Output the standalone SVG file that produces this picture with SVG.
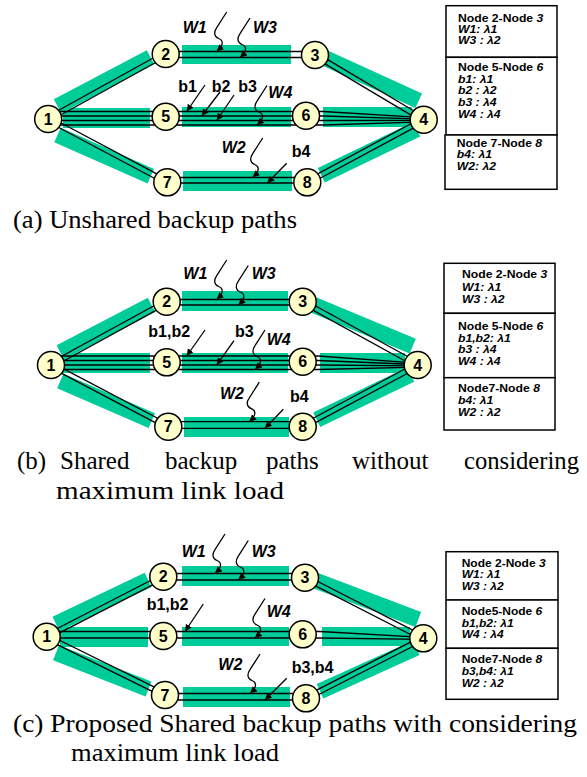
<svg xmlns="http://www.w3.org/2000/svg" xmlns:xlink="http://www.w3.org/1999/xlink" width="587" height="777" viewBox="0 0 587 777">
<style>
.band{stroke:#00CC99;stroke-width:16;fill:none;stroke-linecap:butt}
.bandr{fill:#00CC99}
.ln{stroke:#000;stroke-width:1.3;fill:none}
.arr{stroke:#000;stroke-width:1.3;fill:none;marker-end:url(#ah)}
.node circle{fill:#FFFFCC;stroke:#000;stroke-width:1.5}
.node text{font-family:"Liberation Sans",Arial,sans-serif;font-weight:bold;font-size:16px;text-anchor:middle}
.lbl{font-family:"Liberation Sans",Arial,sans-serif;font-weight:bold;font-size:16px}
.w{font-style:italic}
.tbl rect{fill:#fff;stroke:#000;stroke-width:1.5}
.tt{font-family:"Liberation Sans",Arial,sans-serif;font-weight:bold;font-style:italic;font-size:10px}
.th{font-style:normal}
.cap{font-family:"Liberation Serif","Times New Roman",serif;font-size:25px;fill:#000}
</style>
<defs>
<marker id="ah" markerUnits="userSpaceOnUse" markerWidth="8" markerHeight="8" refX="7" refY="3.5" orient="auto">
<path d="M0,0 L7,3.5 L0,7 Z" fill="#000"/>
</marker>
<path id="sq" class="arr" d="M0,0 L-10,15.7 C-13,20 -13,24.5 -8,26.5 C-3,28.5 -3,33 -10,39.5"/>
</defs>

<!-- ================= (a) ================= -->
<g id="a-connectors">
<rect class="bandr" x="182" y="45" width="109" height="19"/>
<rect class="bandr" x="63" y="108" width="87" height="20"/>
<rect class="bandr" x="182" y="107" width="109" height="20"/>
<rect class="bandr" x="323" y="107" width="89" height="20"/>
<rect class="bandr" x="183" y="171" width="109" height="20"/>
<line class="band" x1="57.5" y1="106.3" x2="150.5" y2="57.2"/>
<line class="band" x1="320" y1="55.8" x2="418.7" y2="100.8"/>
<line class="band" x1="57.5" y1="135" x2="150.8" y2="176.3"/>
<line class="band" x1="321.3" y1="175.3" x2="416.7" y2="129.2"/>
<line class="ln" x1="47" y1="116.8" x2="164.5" y2="51.8"/>
<line class="ln" x1="49.4" y1="121.2" x2="166.9" y2="56.2"/>
<line class="ln" x1="165.7" y1="51.5" x2="315" y2="51.5"/>
<line class="ln" x1="165.7" y1="57.5" x2="315" y2="57.5"/>
<line class="ln" x1="316.3" y1="52.85" x2="425" y2="117.55"/>
<line class="ln" x1="313.7" y1="57.15" x2="422.4" y2="121.85"/>
<line class="ln" x1="49.4" y1="116.8" x2="168.5" y2="180.1"/>
<line class="ln" x1="47" y1="121.2" x2="166.1" y2="184.5"/>
<line class="ln" x1="167.3" y1="177.5" x2="307.3" y2="177.5"/>
<line class="ln" x1="167.3" y1="183" x2="307.3" y2="183"/>
<line class="ln" x1="306.1" y1="180.1" x2="422.5" y2="117.5"/>
<line class="ln" x1="308.5" y1="184.5" x2="424.9" y2="121.9"/>
<polyline class="ln" points="48,111.5 323,111.5 423.7,117.7"/>
<polyline class="ln" points="48,116 323,116 423.7,119.1"/>
<polyline class="ln" points="48,120.5 323,120.5 423.7,120.4"/>
<polyline class="ln" points="48,125 323,125 423.7,121.8"/>
<use xlink:href="#sq" href="#sq" transform="translate(226.7,12)"/>
<use xlink:href="#sq" href="#sq" transform="translate(250,18)"/>
<use xlink:href="#sq" href="#sq" transform="translate(267,85.5)"/>
<use xlink:href="#sq" href="#sq" transform="translate(262.7,138)"/>
<line class="arr" x1="205" y1="85" x2="186.7" y2="111.5"/>
<line class="arr" x1="220" y1="92" x2="201.7" y2="116"/>
<line class="arr" x1="234" y1="95" x2="216.7" y2="120.5"/>
<line class="arr" x1="286.7" y1="163.3" x2="267.3" y2="183"/>
</g>
<g id="a-labels" class="lbl">
<text class="w" x="182.7" y="33">W1</text>
<text class="w" x="253" y="33">W3</text>
<text x="178.3" y="91.7">b1</text>
<text x="211.7" y="91.7">b2</text>
<text x="238.3" y="91.7">b3</text>
<text class="w" x="268.3" y="98.3">W4</text>
<text class="w" x="221.7" y="153.3">W2</text>
<text x="291.7" y="156.7">b4</text>
</g>
<g id="a-n1" class="node"><circle cx="48.2" cy="119" r="13.5"/><text x="48.2" y="124.7">1</text></g>
<g id="a-n2" class="node"><circle cx="165.7" cy="54" r="13.5"/><text x="165.7" y="59.7">2</text></g>
<g id="a-n3" class="node"><circle cx="315" cy="55" r="13.5"/><text x="315" y="60.7">3</text></g>
<g id="a-n4" class="node"><circle cx="423.7" cy="119.7" r="13.5"/><text x="423.7" y="125.4">4</text></g>
<g id="a-n5" class="node"><circle cx="165.7" cy="116.7" r="13.5"/><text x="165.7" y="122.4">5</text></g>
<g id="a-n6" class="node"><circle cx="306" cy="115.7" r="13.5"/><text x="306" y="121.4">6</text></g>
<g id="a-n7" class="node"><circle cx="167.3" cy="182.3" r="13.5"/><text x="167.3" y="188">7</text></g>
<g id="a-n8" class="node"><circle cx="307.3" cy="182.3" r="13.5"/><text x="307.3" y="188">8</text></g>
<g id="a-table" class="tbl">
<rect x="446" y="5.7" width="111" height="51.6"/>
<rect x="446" y="57.3" width="111" height="77.7"/>
<rect x="445" y="135" width="112" height="54.3"/>
<g transform="matrix(1.22,0,0,1,-100.76,0)">
<text class="tt" x="458" y="21.7"><tspan class="th">Node 2-Node </tspan>3</text>
<text class="tt" x="458" y="33.3">W1: λ1</text>
<text class="tt" x="458" y="44.3">W3 : λ2</text>
<text class="tt" x="458" y="70.7"><tspan class="th">Node 5-Node </tspan>6</text>
<text class="tt" x="458" y="82.7">b1: λ1</text>
<text class="tt" x="458" y="94.3">b2 : λ2</text>
<text class="tt" x="458" y="106">b3 : λ4</text>
<text class="tt" x="458" y="117.7">W4 : λ4</text>
<text class="tt" x="457" y="146.7"><tspan class="th">Node 7-Node </tspan>8</text>
<text class="tt" x="457" y="158.3">b4: λ1</text>
<text class="tt" x="457" y="170">W2: λ2</text>
</g>
</g>
<text class="cap" x="13" y="227.5" textLength="284" lengthAdjust="spacingAndGlyphs">(a) Unshared backup paths</text>

<!-- ================= (b) ================= -->
<g id="b-connectors">
<rect class="bandr" x="182" y="291" width="106" height="20"/>
<rect class="bandr" x="63" y="353" width="87" height="20"/>
<rect class="bandr" x="182" y="353" width="106" height="20"/>
<rect class="bandr" x="320" y="353" width="85" height="20"/>
<rect class="bandr" x="184" y="417" width="105" height="20"/>
<line class="band" x1="60.3" y1="352.3" x2="151.5" y2="304.9"/>
<line class="band" x1="307.7" y1="302.5" x2="412.7" y2="346.1"/>
<line class="band" x1="60.3" y1="381" x2="151.8" y2="420.7"/>
<line class="band" x1="316.7" y1="419.7" x2="410.7" y2="374.5"/>
<line class="ln" x1="49.8" y1="362.8" x2="165.5" y2="299.5"/>
<line class="ln" x1="52.2" y1="367.2" x2="167.9" y2="303.9"/>
<line class="ln" x1="166.7" y1="299.5" x2="302.7" y2="299.5"/>
<line class="ln" x1="166.7" y1="305" x2="302.7" y2="305"/>
<line class="ln" x1="303.9" y1="299.5" x2="418.9" y2="362.8"/>
<line class="ln" x1="301.5" y1="303.9" x2="416.5" y2="367.2"/>
<line class="ln" x1="52.2" y1="362.8" x2="169.5" y2="424.5"/>
<line class="ln" x1="49.8" y1="367.2" x2="167.1" y2="428.9"/>
<line class="ln" x1="168.3" y1="421.7" x2="302.7" y2="421.7"/>
<line class="ln" x1="168.3" y1="428.3" x2="302.7" y2="428.3"/>
<line class="ln" x1="301.5" y1="424.5" x2="416.5" y2="362.8"/>
<line class="ln" x1="303.9" y1="428.9" x2="418.9" y2="367.2"/>
<polyline class="ln" points="51,356 318,356 417.7,363.1"/>
<polyline class="ln" points="51,360.5 318,360.5 417.7,364.5"/>
<polyline class="ln" points="51,365 318,365 417.7,365.8"/>
<polyline class="ln" points="51,369.5 318,369.5 417.7,367.2"/>
<use xlink:href="#sq" href="#sq" transform="translate(226.7,260)"/>
<use xlink:href="#sq" href="#sq" transform="translate(248.3,265.5)"/>
<use xlink:href="#sq" href="#sq" transform="translate(265,330)"/>
<use xlink:href="#sq" href="#sq" transform="translate(259.3,382.2)"/>
<line class="arr" x1="205" y1="330" x2="186.7" y2="356"/>
<line class="arr" x1="234" y1="340.7" x2="216.7" y2="365"/>
<line class="arr" x1="283.3" y1="409.3" x2="265" y2="428.3"/>
</g>
<g id="b-labels" class="lbl">
<text class="w" x="183.3" y="279.3">W1</text>
<text class="w" x="251.7" y="279.3">W3</text>
<text x="148.3" y="337.3">b1,b2</text>
<text x="235" y="337.3">b3</text>
<text class="w" x="266.7" y="345">W4</text>
<text class="w" x="220" y="399.3">W2</text>
<text x="290" y="401.7">b4</text>
</g>
<g id="b-n1" class="node"><circle cx="51" cy="365" r="13.5"/><text x="51" y="370.7">1</text></g>
<g id="b-n2" class="node"><circle cx="166.7" cy="301.7" r="13.5"/><text x="166.7" y="307.4">2</text></g>
<g id="b-n3" class="node"><circle cx="302.7" cy="301.7" r="13.5"/><text x="302.7" y="307.4">3</text></g>
<g id="b-n4" class="node"><circle cx="417.7" cy="365" r="13.5"/><text x="417.7" y="370.7">4</text></g>
<g id="b-n5" class="node"><circle cx="166.7" cy="362.3" r="13.5"/><text x="166.7" y="368">5</text></g>
<g id="b-n6" class="node"><circle cx="302.7" cy="361.7" r="13.5"/><text x="302.7" y="367.4">6</text></g>
<g id="b-n7" class="node"><circle cx="168.3" cy="426.7" r="13.5"/><text x="168.3" y="432.4">7</text></g>
<g id="b-n8" class="node"><circle cx="302.7" cy="426.7" r="13.5"/><text x="302.7" y="432.4">8</text></g>
<g id="b-table" class="tbl">
<rect x="444" y="263.3" width="111" height="50"/>
<rect x="444" y="313.3" width="111" height="64.4"/>
<rect x="444" y="377.7" width="111" height="52.3"/>
<g transform="matrix(1.22,0,0,1,-101.27,0)">
<text class="tt" x="461.7" y="278.3"><tspan class="th">Node 2-Node </tspan>3</text>
<text class="tt" x="461.7" y="290.7">W1: λ1</text>
<text class="tt" x="461.7" y="302.7">W3 : λ2</text>
</g>
<g transform="matrix(1.22,0,0,1,-100.76,0)">
<text class="tt" x="458" y="330"><tspan class="th">Node 5-Node </tspan>6</text>
<text class="tt" x="458" y="341.7">b1,b2: λ1</text>
<text class="tt" x="458" y="353.3">b3 : λ4</text>
<text class="tt" x="458" y="365">W4 : λ4</text>
<text class="tt" x="458" y="391.7"><tspan class="th">Node7-Node </tspan>8</text>
<text class="tt" x="458" y="404">b4: λ1</text>
<text class="tt" x="458" y="416">W2 : λ2</text>
</g>
</g>
<g class="cap">
<text x="17" y="469">(b)</text>
<text x="60" y="469">Shared</text>
<text x="165" y="469">backup</text>
<text x="266" y="469">paths</text>
<text x="352" y="469">without</text>
<text x="464" y="469" textLength="115" lengthAdjust="spacingAndGlyphs">considering</text>
<text x="56" y="499" textLength="228" lengthAdjust="spacingAndGlyphs">maximum link load</text>
</g>

<!-- ================= (c) ================= -->
<g id="c-connectors">
<rect class="bandr" x="182" y="566" width="107" height="20"/>
<rect class="bandr" x="60" y="627" width="88" height="20"/>
<rect class="bandr" x="182" y="627" width="107" height="19"/>
<rect class="bandr" x="322" y="627" width="88" height="19"/>
<rect class="bandr" x="183" y="687" width="107" height="20"/>
<line class="band" x1="56" y1="624" x2="148.1" y2="579.9"/>
<line class="band" x1="310" y1="578.5" x2="418.3" y2="619.4"/>
<line class="band" x1="56" y1="652.7" x2="148.5" y2="689"/>
<line class="band" x1="320" y1="691.3" x2="416.3" y2="647.8"/>
<line class="ln" x1="45.6" y1="634.5" x2="162.2" y2="574.5"/>
<line class="ln" x1="47.8" y1="638.9" x2="164.4" y2="578.9"/>
<line class="ln" x1="163.3" y1="573.5" x2="305" y2="573.5"/>
<line class="ln" x1="163.3" y1="580" x2="305" y2="580"/>
<line class="ln" x1="306.1" y1="575.5" x2="424.4" y2="636.1"/>
<line class="ln" x1="303.9" y1="579.9" x2="422.2" y2="640.5"/>
<line class="ln" x1="47.8" y1="634.5" x2="166.1" y2="692.8"/>
<line class="ln" x1="45.6" y1="638.9" x2="163.9" y2="697.2"/>
<line class="ln" x1="165" y1="693.5" x2="306" y2="693.5"/>
<line class="ln" x1="165" y1="700" x2="306" y2="700"/>
<line class="ln" x1="304.9" y1="696.1" x2="422.2" y2="636.1"/>
<line class="ln" x1="307.1" y1="700.5" x2="424.4" y2="640.5"/>
<polyline class="ln" points="46.7,631.5 320,631.5 423.3,637.3"/>
<polyline class="ln" points="46.7,638 320,638 423.3,639.3"/>
<use xlink:href="#sq" href="#sq" transform="translate(225,534)"/>
<use xlink:href="#sq" href="#sq" transform="translate(248.3,540.5)"/>
<use xlink:href="#sq" href="#sq" transform="translate(265,598.5)"/>
<use xlink:href="#sq" href="#sq" transform="translate(260,654)"/>
<line class="arr" x1="203.3" y1="604" x2="185" y2="631.5"/>
<line class="arr" x1="286.7" y1="678.3" x2="265" y2="700"/>
</g>
<g id="c-labels" class="lbl">
<text class="w" x="181.7" y="557.3">W1</text>
<text class="w" x="251.7" y="557.3">W3</text>
<text x="146.7" y="610">b1,b2</text>
<text class="w" x="266.7" y="617.3">W4</text>
<text class="w" x="218.3" y="670">W2</text>
<text x="291.7" y="673.3">b3,b4</text>
</g>
<g id="c-n1" class="node"><circle cx="46.7" cy="636.7" r="13.5"/><text x="46.7" y="642.4">1</text></g>
<g id="c-n2" class="node"><circle cx="163.3" cy="576.7" r="13.5"/><text x="163.3" y="582.4">2</text></g>
<g id="c-n3" class="node"><circle cx="305" cy="577.7" r="13.5"/><text x="305" y="583.4">3</text></g>
<g id="c-n4" class="node"><circle cx="423.3" cy="638.3" r="13.5"/><text x="423.3" y="644">4</text></g>
<g id="c-n5" class="node"><circle cx="163.3" cy="636" r="13.5"/><text x="163.3" y="641.7">5</text></g>
<g id="c-n6" class="node"><circle cx="302.7" cy="634.3" r="13.5"/><text x="302.7" y="640">6</text></g>
<g id="c-n7" class="node"><circle cx="165" cy="695" r="13.5"/><text x="165" y="700.7">7</text></g>
<g id="c-n8" class="node"><circle cx="306" cy="698.3" r="13.5"/><text x="306" y="704">8</text></g>
<g id="c-table" class="tbl">
<rect x="446" y="551.7" width="112" height="48.3"/>
<rect x="446" y="600" width="112" height="48.3"/>
<rect x="446" y="648.3" width="112" height="51"/>
<g transform="matrix(1.2,0,0,1,-92.34,0)">
<text class="tt" x="461.7" y="566.7"><tspan class="th">Node 2-Node </tspan>3</text>
<text class="tt" x="461.7" y="578.3">W1: λ1</text>
<text class="tt" x="461.7" y="590">W3 : λ2</text>
<text class="tt" x="461.7" y="615"><tspan class="th">Node5-Node </tspan>6</text>
<text class="tt" x="461.7" y="626.7">b1,b2: λ1</text>
<text class="tt" x="461.7" y="638.3">W4 : λ4</text>
<text class="tt" x="461.7" y="663.3"><tspan class="th">Node7-Node </tspan>8</text>
<text class="tt" x="461.7" y="675">b3,b4: λ1</text>
<text class="tt" x="461.7" y="686.7">W2 : λ2</text>
</g>
</g>
<text class="cap" x="13" y="732" textLength="564" lengthAdjust="spacingAndGlyphs">(c) Proposed Shared backup paths with considering</text>
<text class="cap" x="71" y="761" textLength="208" lengthAdjust="spacingAndGlyphs">maximum link load</text>
</svg>
